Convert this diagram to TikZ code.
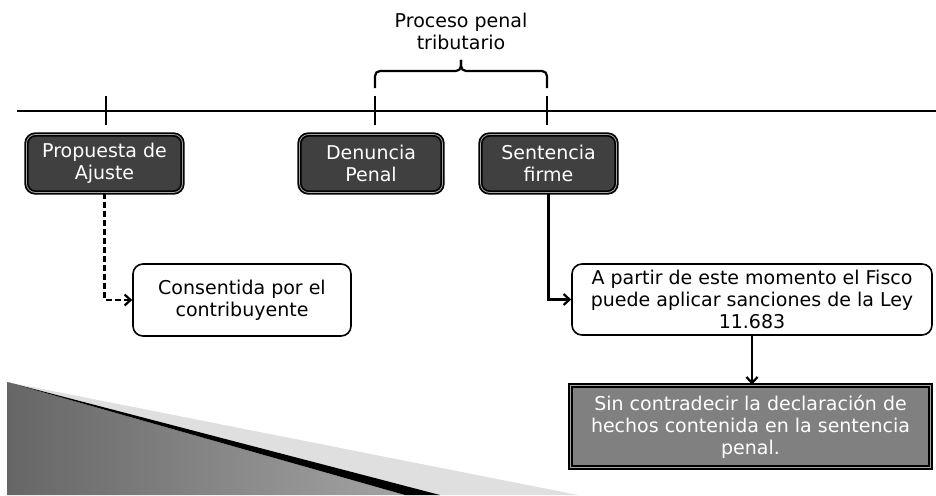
\documentclass[tikz,border=0pt]{standalone}
\usepackage{fontspec}
\setmainfont{DejaVu Sans}
\usetikzlibrary{arrows.meta}
\definecolor{boxdark}{HTML}{404040}
\definecolor{boxgray}{HTML}{808080}
\begin{document}
\begin{tikzpicture}[x=1pt,y=-1pt,
  txt/.style={font=\fontsize{19}{22}\selectfont, align=center, inner sep=0pt},
  darkbox/.style={txt, text=white, fill=boxdark, draw=black, line width=1.8pt, double=gray!70, double distance=0.8pt, rounded corners=9pt},
  whitebox/.style={txt, fill=white, draw=black, line width=1.6pt, rounded corners=10pt},
  graybox/.style={txt, text=white, fill=boxgray, draw=black, line width=1.8pt, double=gray!70, double distance=0.8pt},
  conn/.style={line width=2.2pt, -{Straight Barb[length=6pt,width=11pt]}},
  tline/.style={line width=2.2pt}]
\clip (0,0) rectangle (936,495);
% decorative wedge
\shade[left color=gray!80!black, right color=gray!72] (7,382) -- (405,495) -- (7,495) -- cycle;
\fill[gray!25] (7,382) -- (578,495) -- (440,495) -- cycle;
\fill[black] (7,382) -- (440,495) -- (405,495) -- cycle;
% timeline
\coordinate (tl0) at (17,111);
\coordinate (tl1) at (940,111);
\draw[tline] (tl0) -- (tl1);
% boxes
\node[darkbox, minimum width=156pt, minimum height=58pt] (prop) at (104.5,163.5) {Propuesta de\\Ajuste};
\node[darkbox, minimum width=143pt, minimum height=58pt] (den) at (371,163.5) {Denuncia\\Penal};
\node[darkbox, minimum width=136pt, minimum height=58pt] (sen) at (548.5,163.5) {Sentencia\\firme};
\node[whitebox, minimum width=218pt, minimum height=72pt] (cons) at (242,300) {Consentida por el\\contribuyente};
\node[whitebox, minimum width=360pt, minimum height=71pt] (apar) at (752,299.5) {A partir de este momento el Fisco\\puede aplicar sanciones de la Ley\\11.683};
\node[graybox, minimum width=360pt, minimum height=82pt] (sin) at (750.5,426.5) {Sin contradecir la declaración de\\hechos contenida en la sentencia\\penal.};
% ticks
\coordinate (t1a) at (106,96); \coordinate (t1b) at (106,125);
\coordinate (t2a) at (375,96); \coordinate (t2b) at (375,125);
\coordinate (t3a) at (547,96); \coordinate (t3b) at (547,125);
\draw[tline] (t1a) -- (t1b);
\draw[tline] (t2a) -- (t2b);
\draw[tline] (t3a) -- (t3b);
% brace and title
\coordinate (bl) at (375,88);
\coordinate (br) at (547,88);
\coordinate (bm) at (461,71);
\coordinate (btip) at (461,60);
\draw[tline, rounded corners=5pt] (bl) |- (bm) -- (btip);
\draw[tline, rounded corners=5pt] (br) |- (bm) -- (btip);
\node[txt] (title) at (461,31) {Proceso penal\\tributario};
% connectors
\draw[conn, dash pattern=on 6pt off 3pt] (prop.south) |- (cons.west);
\draw[conn] (sen.south) |- (apar.west);
\draw[conn] (apar.south) -- (apar.south |- sin.north);
\end{tikzpicture}
\end{document}
